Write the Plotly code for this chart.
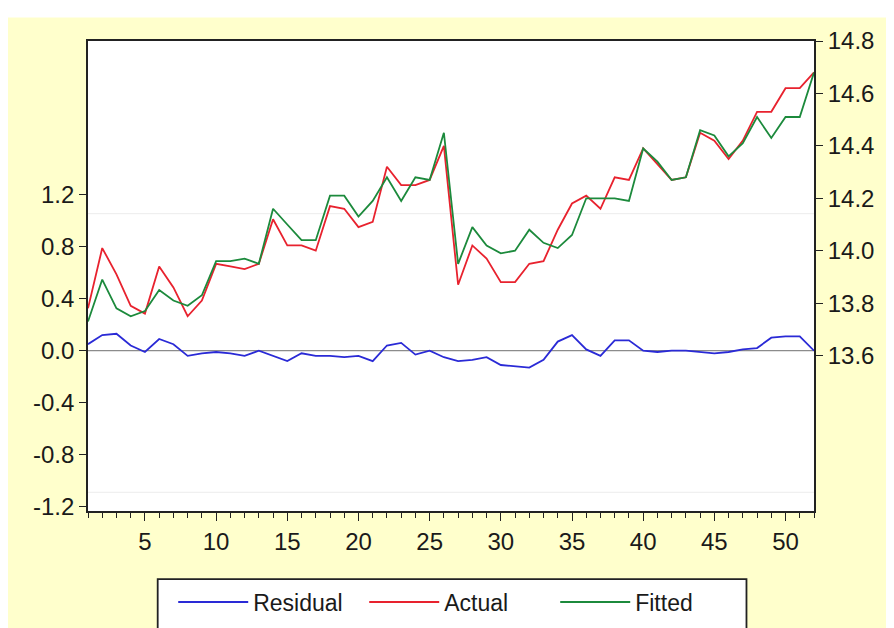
import plotly.graph_objects as go

obs = list(range(1, 53))

actual = [13.78, 14.01, 13.91, 13.79, 13.76, 13.94, 13.86, 13.75, 13.81, 13.95,
          13.94, 13.93, 13.95, 14.12, 14.02, 14.02, 14.00, 14.17, 14.16, 14.09,
          14.11, 14.32, 14.25, 14.25, 14.27, 14.40, 13.87, 14.02, 13.97, 13.88,
          13.88, 13.95, 13.96, 14.08, 14.18, 14.21, 14.16, 14.28, 14.27, 14.39,
          14.33, 14.27, 14.28, 14.45, 14.42, 14.35, 14.42, 14.53, 14.53, 14.62,
          14.62, 14.68]

fitted = [13.73, 13.89, 13.78, 13.75, 13.77, 13.85, 13.81, 13.79, 13.83, 13.96,
          13.96, 13.97, 13.95, 14.16, 14.10, 14.04, 14.04, 14.21, 14.21, 14.13,
          14.19, 14.28, 14.19, 14.28, 14.27, 14.45, 13.95, 14.09, 14.02, 13.99,
          14.00, 14.08, 14.03, 14.01, 14.06, 14.20, 14.20, 14.20, 14.19, 14.39,
          14.34, 14.27, 14.28, 14.46, 14.44, 14.36, 14.41, 14.51, 14.43, 14.51,
          14.51, 14.68]

residual = [0.05, 0.12, 0.13, 0.04, -0.01, 0.09, 0.05, -0.04, -0.02, -0.01,
            -0.02, -0.04, 0.00, -0.04, -0.08, -0.02, -0.04, -0.04, -0.05, -0.04,
            -0.08, 0.04, 0.06, -0.03, 0.00, -0.05, -0.08, -0.07, -0.05, -0.11,
            -0.12, -0.13, -0.07, 0.07, 0.12, 0.01, -0.04, 0.08, 0.08, 0.00,
            -0.01, 0.00, 0.00, -0.01, -0.02, -0.01, 0.01, 0.02, 0.10, 0.11,
            0.11, 0.00]

x_ticks = [5, 10, 15, 20, 25, 30, 35, 40, 45, 50]
left_ticks = [-1.2, -0.8, -0.4, 0.0, 0.4, 0.8, 1.2]
left_labels = ["-1.2", "-0.8", "-0.4", "0.0", "0.4", "0.8", "1.2"]
right_ticks = [13.6, 13.8, 14.0, 14.2, 14.4, 14.6, 14.8]
right_labels = ["13.6", "13.8", "14.0", "14.2", "14.4", "14.6", "14.8"]

FONT = "Liberation Sans, Arial, sans-serif"
TICKFONT = dict(family=FONT, size=24, color="#1a1a1a")

fig = go.Figure()
fig.add_trace(go.Scatter(x=obs, y=residual, name="Residual", mode="lines",
                         line=dict(color="#2a2ad6", width=1.8), yaxis="y"))
fig.add_trace(go.Scatter(x=obs, y=actual, name="Actual", mode="lines",
                         line=dict(color="#e8222e", width=1.8), yaxis="y2"))
fig.add_trace(go.Scatter(x=obs, y=fitted, name="Fitted", mode="lines",
                         line=dict(color="#1c8a3c", width=1.8), yaxis="y2"))

fig.update_layout(
    width=894, height=628,
    margin=dict(l=80, r=88, t=33, b=111),
    paper_bgcolor="#ffffcc",
    plot_bgcolor="#ffffff",
    font=dict(family=FONT, size=21, color="#1a1a1a"),
    showlegend=True,
    legend=dict(orientation="h", x=0.512, xanchor="center", y=-0.148, yanchor="top",
                bgcolor="rgba(0,0,0,0)", borderwidth=0,
                font=dict(family=FONT, size=23, color="#1a1a1a"),
                entrywidth=106, itemwidth=70, tracegroupgap=0),
    xaxis=dict(range=[1, 52], tickmode="array", tickvals=x_ticks,
               ticks="outside", ticklen=8, tickwidth=1.2, tickcolor="#222",
               tickfont=TICKFONT, automargin=False,
               showline=True, linecolor="#222", linewidth=1.8, mirror=True,
               showgrid=False, zeroline=False,
               minor=dict(dtick=1, tick0=0, ticks="outside", ticklen=5,
                          tickwidth=1, tickcolor="#222", showgrid=False)),
    yaxis=dict(range=[-1.232, 2.38], tickmode="array", tickvals=left_ticks,
               ticktext=left_labels, ticks="outside", ticklen=7, tickwidth=1.2,
               tickcolor="#222", tickfont=TICKFONT, automargin=False,
               showline=True, linecolor="#222", linewidth=1.8,
               showgrid=False, zeroline=False),
    yaxis2=dict(range=[13.007, 14.8], tickmode="array", tickvals=right_ticks,
                ticktext=right_labels, overlaying="y", side="right",
                ticks="outside", ticklen=7, tickwidth=1.2, tickcolor="#222",
                tickfont=TICKFONT, automargin=False,
                showline=True, linecolor="#222", linewidth=1.8,
                showgrid=False, zeroline=False),
    shapes=[
        dict(type="line", xref="paper", yref="y", x0=0, x1=1, y0=0, y1=0,
             line=dict(color="#8c8c8c", width=1.2), layer="below"),
        dict(type="line", xref="paper", yref="y", x0=0, x1=1, y0=1.053, y1=1.053,
             line=dict(color="#ececec", width=1), layer="below"),
        dict(type="line", xref="paper", yref="y", x0=0, x1=1, y0=-1.088, y1=-1.088,
             line=dict(color="#ececec", width=1), layer="below"),
        dict(type="rect", xref="paper", yref="paper", x0=-0.2, x1=1.3,
             y0=1.05, y1=1.2, fillcolor="#ffffff", line=dict(width=0), layer="below"),
        # legend frame (extends past the bottom edge as in the reference)
        dict(type="rect", xref="paper", yref="paper", x0=0.096, x1=0.907,
             y0=-0.30, y1=-0.145, fillcolor="#ffffff",
             line=dict(color="#222222", width=1.8), layer="below"),
    ],
)

fig.write_html("out.html")
